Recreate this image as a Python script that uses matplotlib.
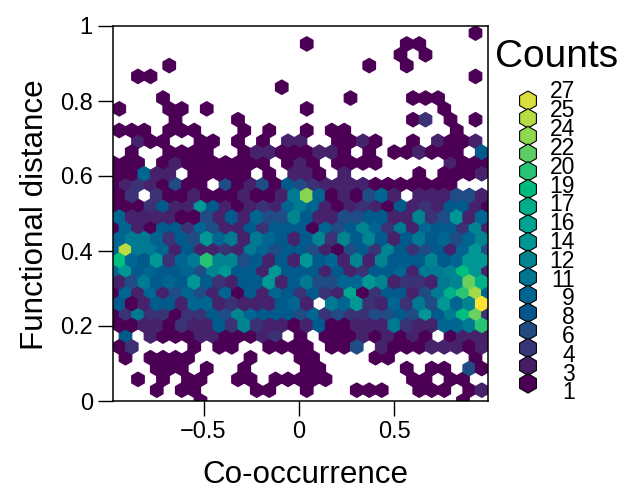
import numpy as np
import matplotlib
matplotlib.use('Agg')
import matplotlib.pyplot as plt
from matplotlib.colors import LinearSegmentedColormap

plt.rcParams['font.family'] = ['Liberation Sans', 'DejaVu Sans']

# hexagon counts, one list per row of the grid from top to bottom (0 = empty)
# even rows have 31 cells, odd rows 30
counts = [
    [0]*29 + [1, 0],
    [0]*15 + [1] + [0]*7 + [1, 1] + [0]*5,
    [0]*23 + [1, 0, 1] + [0]*5,
    [0]*4 + [1] + [0]*15 + [1, 0, 0, 1] + [0]*6,
    [0, 0, 1, 1] + [0]*25 + [1, 0],
    [0]*13 + [1] + [0]*16,
    [0]*4 + [1] + [0]*14 + [1] + [0]*4 + [1, 1, 1] + [0]*4,
    [1, 0, 0, 0, 1, 1, 0, 1] + [0]*7 + [1] + [0]*10 + [1] + [0]*3,
    [0]*5 + [1] + [0]*4 + [1] + [0]*13 + [1, 4, 0, 1, 0, 1, 0],
    [1, 1, 1, 0, 1, 1, 1, 0, 0, 0, 1, 0, 1, 0, 0, 1, 0, 1, 1] + [0]*8 + [1, 0, 0],
    [0, 0, 3, 1, 1, 0, 0, 1, 1, 0, 1, 0, 1, 0, 3, 3, 0, 0, 1, 1, 3, 1, 0, 0, 1, 0, 3, 1, 1, 3, 0],
    [0, 1, 0, 0, 1, 1, 1, 1, 0, 0, 1, 3, 3, 1, 1, 1, 3, 3, 1, 0, 1, 0, 1, 1, 3, 1, 1, 1, 0, 8],
    [1, 1, 1, 0, 1, 3, 1, 1, 1, 1, 1, 1, 1, 0, 1, 3, 1, 0, 1, 1, 1, 1, 0, 0, 0, 0, 0, 3, 1, 1, 1],
    [1, 1, 9, 3, 3, 0, 1, 1, 1, 1, 1, 0, 1, 0, 3, 3, 1, 0, 3, 0, 0, 0, 0, 0, 1, 0, 1, 1, 1, 3],
    [1, 3, 4, 3, 1, 6, 1, 1, 0, 6, 1, 3, 6, 1, 8, 6, 4, 3, 3, 3, 3, 1, 1, 1, 1, 1, 1, 1, 0, 0, 0],
    [1, 4, 0, 4, 1, 1, 3, 1, 1, 1, 3, 1, 1, 3, 11, 23, 9, 1, 3, 1, 6, 9, 3, 0, 3, 3, 3, 6, 6, 3],
    [1, 1, 1, 4, 8, 3, 3, 14, 8, 3, 1, 3, 4, 3, 9, 11, 9, 3, 1, 3, 4, 3, 1, 8, 3, 4, 3, 8, 8, 3, 1],
    [9, 3, 3, 3, 3, 1, 1, 6, 3, 8, 3, 9, 6, 6, 12, 8, 3, 3, 6, 6, 8, 8, 3, 3, 12, 4, 6, 14, 3, 9],
    [1, 9, 3, 1, 8, 8, 4, 9, 6, 3, 3, 8, 4, 8, 8, 8, 1, 9, 6, 8, 12, 9, 4, 11, 3, 9, 8, 8, 4, 12, 3],
    [9, 11, 11, 9, 4, 8, 6, 14, 9, 11, 3, 11, 9, 8, 3, 8, 12, 4, 12, 8, 12, 8, 3, 8, 11, 8, 9, 6, 9, 12],
    [9, 25, 11, 11, 9, 3, 8, 3, 3, 4, 3, 11, 9, 6, 8, 8, 6, 3, 1, 6, 8, 4, 12, 8, 4, 6, 8, 3, 9, 14, 6],
    [19, 9, 8, 14, 4, 9, 11, 20, 12, 12, 6, 8, 3, 8, 3, 14, 8, 9, 3, 12, 3, 12, 8, 8, 8, 12, 8, 9, 14, 14],
    [9, 14, 8, 9, 8, 8, 9, 6, 12, 14, 8, 8, 3, 14, 8, 8, 8, 3, 8, 3, 4, 8, 8, 9, 3, 11, 11, 12, 19, 14, 3],
    [3, 6, 11, 8, 9, 8, 14, 8, 4, 3, 8, 8, 14, 3, 8, 11, 6, 6, 9, 9, 14, 12, 3, 4, 4, 3, 11, 12, 22, 17],
    [1, 9, 3, 9, 3, 6, 9, 6, 3, 9, 1, 8, 3, 9, 8, 4, 8, 4, 3, 16, 1, 4, 8, 8, 3, 6, 11, 17, 20, 24, 9],
    [8, 1, 3, 8, 8, 3, 9, 9, 3, 4, 3, 3, 3, 8, 9, 3, 0, 11, 9, 14, 4, 3, 9, 4, 11, 6, 14, 9, 12, 28],
    [1, 4, 11, 4, 4, 1, 4, 4, 8, 6, 12, 9, 8, 8, 8, 6, 9, 4, 6, 4, 4, 6, 6, 8, 6, 14, 8, 11, 19, 22, 4],
    [1, 1, 3, 3, 1, 4, 3, 3, 8, 4, 12, 4, 3, 3, 1, 3, 8, 1, 1, 3, 3, 3, 11, 4, 3, 3, 9, 9, 11, 20],
    [0, 8, 0, 3, 1, 1, 1, 3, 3, 1, 1, 1, 3, 4, 0, 1, 0, 1, 1, 1, 3, 1, 3, 1, 3, 1, 0, 1, 3, 3, 3],
    [1, 4, 0, 0, 0, 0, 1, 0, 1, 1, 0, 0, 1, 1, 1, 1, 0, 1, 1, 6, 0, 3, 1, 1, 1, 3, 3, 3, 1, 3],
    [0, 1, 0, 1, 1, 1, 1, 0, 0, 0, 0, 1, 0, 0, 0, 1, 1, 0, 0, 0, 0, 1, 1, 0, 0, 0, 0, 0, 0, 1, 0],
    [0, 0, 0, 1, 1, 1, 0, 1, 0, 0, 1, 0, 0, 0, 0, 1, 1, 0, 0, 0, 0, 0, 0, 1, 0, 1, 1, 0, 6, 1],
    [0, 0, 1, 0, 1, 0, 1, 1, 0, 0, 1, 1, 0, 1, 1, 1, 1, 1, 0, 0, 0, 0, 0, 0, 1, 1, 0, 1, 1, 0, 0],
    [0, 0, 0, 1, 0, 1, 1, 0, 0, 0, 0, 1, 1, 0, 0, 1, 0, 0, 0, 1, 1, 1, 0, 0, 1, 1, 1, 0, 1, 3],
    [0]*7 + [1] + [0]*20 + [1, 0, 0],
]
legend_counts = [27, 25, 24, 22, 20, 19, 17, 16, 14, 12, 11, 9, 8, 6, 4, 3, 1]
x_ticks = [-0.5, 0, 0.5]
x_tick_labels = ['\u22120.5', '0', '0.5']
y_ticks = [0, 0.2, 0.4, 0.6, 0.8, 1]
y_tick_labels = ['0', '0.2', '0.4', '0.6', '0.8', '1']

# the hcl flavour of viridis
hcl_viridis = LinearSegmentedColormap.from_list('hcl_viridis', [
    '#4B0055', '#44286F', '#274983', '#00588B', '#007094', '#00868F', '#009B95',
    '#00AE8A', '#00BE7D', '#53CC67', '#96D84B', '#CBDE3E', '#FDE333'])

XMIN, XMAX = -0.974, 0.99
YTOP = 0.981
NX, NY = 30, 17

hex_x, hex_y, hex_c = [], [], []
w = (XMAX - XMIN) / NX
dy = YTOP / (2 * NY)
for r, row in enumerate(counts):
    for k, c in enumerate(row):
        if c > 0:
            hex_x.append(XMIN + (k + 0.5 * (r % 2)) * w)
            hex_y.append(YTOP - r * dy)
            hex_c.append(c)

fig = plt.figure(figsize=(6.29, 4.9), dpi=100)
ax = fig.add_axes([113 / 629, 89 / 490, 375 / 629, 375 / 490])
ax.hexbin(hex_x, hex_y, C=hex_c, gridsize=(NX, NY), extent=(XMIN, XMAX, 0, YTOP),
          reduce_C_function=np.sum, cmap=hcl_viridis, vmin=1, vmax=28,
          edgecolors='face', linewidths=0.9)
ax.set_xlim(XMIN, XMAX)
ax.set_ylim(0, 1)
ax.set_xticks(x_ticks, x_tick_labels, fontsize=17)
ax.set_yticks(y_ticks, y_tick_labels, fontsize=17)
ax.tick_params(length=10.5, width=1, pad=4)
for s in ax.spines.values():
    s.set_linewidth(1.1)
ax.set_xlabel('Co-occurrence', fontsize=22.6, va='center')
ax.xaxis.set_label_coords((305 - 113) / 375, -(475 - 401) / 375)
ax.set_ylabel('Functional distance', fontsize=22.6, va='center')
ax.yaxis.set_label_coords(-(113 - 35) / 375, (401 - 215) / 375)

# legend drawn on a full figure overlay in pixel units
leg = fig.add_axes([0, 0, 1, 1])
leg.set_xlim(0, 629)
leg.set_ylim(490, 0)
leg.axis('off')
n = len(legend_counts)
cols = hcl_viridis([(n - 1 - i) / n for i in range(n)])
leg.scatter([528] * n, 100.7 + 17.67 * np.arange(n), s=195, marker='h', c=cols,
            edgecolors='black', linewidths=0.8)
for i, c in enumerate(legend_counts):
    leg.text(575, 92 + 18.8 * i, str(c), fontsize=16.5, ha='right', va='center')
leg.text(495, 57, 'Counts', fontsize=28, ha='left', va='center')

fig.savefig('out.png', dpi=100)
